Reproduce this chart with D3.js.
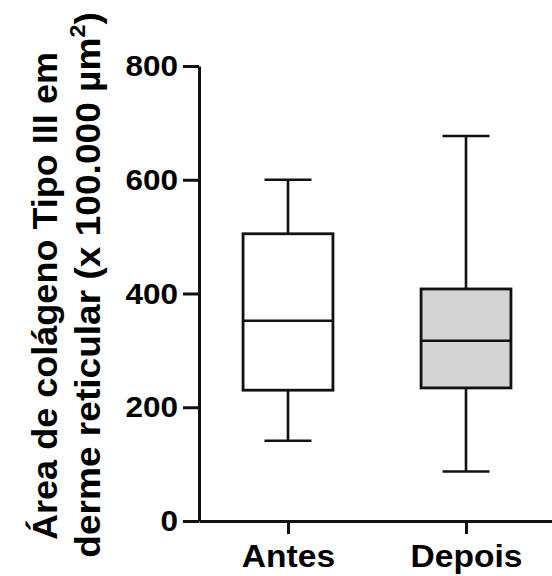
<!DOCTYPE html>
<html>
<head>
<meta charset="utf-8">
<script src="https://cdn.jsdelivr.net/npm/d3@7"></script>
<style>
  html, body { margin: 0; padding: 0; background: #fff; }
  svg { display: block; }
  text { font-family: "Liberation Sans", Arial, sans-serif; font-weight: bold; fill: #000; }
</style>
</head>
<body>
<svg id="chart" width="552" height="576"></svg>
<script>
// Collagen type III area in the reticular dermis, before and after treatment
const categories = ["Antes", "Depois"];
const whiskerMin = [141, 87];
const quartile1  = [230, 234];
const medians    = [352, 317];
const quartile3  = [505, 408];
const whiskerMax = [600, 677];
const boxFills   = ["#ffffff", "#d4d4d4"];
const yTicks     = [0, 200, 400, 600, 800];
const titleLines = ["Área de colágeno Tipo III em", "derme reticular (x 100.000 µm"];

const svg = d3.select("#chart");
const ink = "#111";

const y = d3.scaleLinear().domain([0, 800]).range([521, 66]);
const x = d3.scalePoint().domain(categories).range([199, 555]).padding(0.5);

// y axis
const yAxis = svg.append("g")
  .attr("transform", "translate(199,0)")
  .call(d3.axisLeft(y).tickValues(yTicks).tickSize(16).tickSizeOuter(0).tickPadding(5));
yAxis.select(".domain").attr("stroke", ink).attr("stroke-width", 3);
yAxis.selectAll(".tick line").attr("stroke", ink).attr("stroke-width", 3);
yAxis.selectAll(".tick text")
  .attr("font-size", 30)
  .attr("x", -21 / 1.05)
  .attr("transform", "scale(1.05,1)")
  .style("font-family", "'Liberation Sans', Arial, sans-serif")
  .style("font-weight", "bold");

// x axis
const xAxis = svg.append("g")
  .attr("transform", "translate(0,521)")
  .call(d3.axisBottom(x).tickSize(13).tickSizeOuter(0).tickPadding(10));
xAxis.select(".domain").attr("stroke", ink).attr("stroke-width", 3);
xAxis.selectAll(".tick line").attr("stroke", ink).attr("stroke-width", 3);
xAxis.selectAll(".tick text")
  .attr("font-size", 32)
  .attr("transform", "scale(1.05,1)")
  .style("font-family", "'Liberation Sans', Arial, sans-serif")
  .style("font-weight", "bold");

// box plots
const boxW = x.step() * 0.505;
const capW = x.step() * 0.264;
const data = categories.map((c, i) => ({
  c, lo: whiskerMin[i], q1: quartile1[i], med: medians[i], q3: quartile3[i], hi: whiskerMax[i], fill: boxFills[i]
}));

const boxes = svg.append("g").selectAll("g").data(data).join("g")
  .attr("transform", d => `translate(${x(d.c)},0)`);

boxes.append("line")
  .attr("x1", 0).attr("x2", 0)
  .attr("y1", d => y(d.hi)).attr("y2", d => y(d.q3))
  .attr("stroke", ink).attr("stroke-width", 2.6);
boxes.append("line")
  .attr("x1", 0).attr("x2", 0)
  .attr("y1", d => y(d.q1)).attr("y2", d => y(d.lo))
  .attr("stroke", ink).attr("stroke-width", 2.6);
boxes.append("line")
  .attr("x1", -capW / 2).attr("x2", capW / 2)
  .attr("y1", d => y(d.hi)).attr("y2", d => y(d.hi))
  .attr("stroke", ink).attr("stroke-width", 2.6);
boxes.append("line")
  .attr("x1", -capW / 2).attr("x2", capW / 2)
  .attr("y1", d => y(d.lo)).attr("y2", d => y(d.lo))
  .attr("stroke", ink).attr("stroke-width", 2.6);
boxes.append("rect")
  .attr("x", -boxW / 2).attr("width", boxW)
  .attr("y", d => y(d.q3)).attr("height", d => y(d.q1) - y(d.q3))
  .attr("fill", d => d.fill)
  .attr("stroke", ink).attr("stroke-width", 2.8);
boxes.append("line")
  .attr("x1", -boxW / 2).attr("x2", boxW / 2)
  .attr("y1", d => y(d.med)).attr("y2", d => y(d.med))
  .attr("stroke", ink).attr("stroke-width", 2.6);

// rotated two-line axis title
const t1 = svg.append("g")
  .attr("transform", "translate(57,296) rotate(-90) scale(1.03,1)");
t1.append("text")
  .attr("text-anchor", "middle")
  .attr("font-size", 35)
  .text(titleLines[0]);

const t2 = svg.append("g")
  .attr("transform", "translate(100,285) rotate(-90) scale(1.06,1)");
const line2 = t2.append("text")
  .attr("text-anchor", "middle")
  .attr("font-size", 35);
line2.append("tspan").text(titleLines[1]);
line2.append("tspan").attr("font-size", 22).attr("dy", -15).text("2");
line2.append("tspan").attr("dy", 15).text(")");
</script>
</body>
</html>
